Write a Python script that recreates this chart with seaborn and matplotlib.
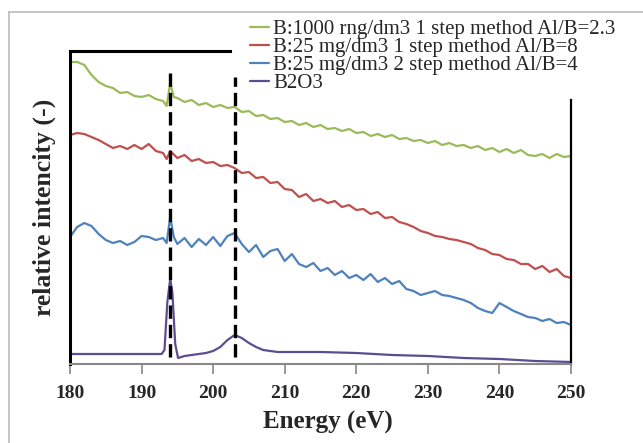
import numpy as np
import pandas as pd
import matplotlib
matplotlib.use("Agg")
import matplotlib.pyplot as plt
from matplotlib.lines import Line2D
import seaborn as sns

# ── data (relative intensity, arbitrary units) ────────────────────────────────

labels = [
    "B:1000 rng/dm3 1 step method Al/B=2.3",
    "B:25 mg/dm3 1 step method Al/B=8",
    "B:25 mg/dm3 2 step method Al/B=4",
    "B2O3",
]
colors = ["#9bbb59", "#c0504d", "#4f81bd", "#5c4d91"]

energy_green = [180, 181, 182, 183, 184, 185, 186, 187, 188, 189, 190, 191, 192, 193, 193.5, 194, 194.5,
                195, 196, 197, 198, 199, 200, 201, 202, 203, 204, 205, 206, 207, 208, 209, 210, 211, 212,
                213, 214, 215, 216, 217, 218, 219, 220, 221, 222, 223, 224, 225, 226, 227, 228, 229, 230,
                231, 232, 233, 234, 235, 236, 237, 238, 239, 240, 241, 242, 243, 244, 245, 246, 247, 248,
                249, 250]
int_green = [302, 302, 299, 289, 282, 278, 276, 271, 272, 268, 267, 269, 265, 263, 258, 281, 267,
             266, 262, 264, 259, 261, 257, 259, 256, 257, 252, 253, 248, 249, 245, 246, 242, 243, 239,
             241, 237, 239, 235, 236, 233, 235, 231, 232, 228, 230, 227, 229, 225, 226, 223, 224, 221,
             223, 219, 221, 218, 219, 216, 218, 214, 216, 212, 215, 211, 214, 209, 208, 210, 206, 210,
             207, 208]

energy_red = [180, 181, 182, 183, 184, 185, 186, 187, 188, 189, 190, 191, 192, 193, 193.5, 194, 195,
              196, 197, 198, 199, 200, 201, 202, 203, 204, 205, 206, 207, 208, 209, 210, 211, 212, 213,
              214, 215, 216, 217, 218, 219, 220, 221, 222, 223, 224, 225, 226, 227, 228, 229, 230, 231,
              232, 233, 234, 235, 236, 237, 238, 239, 240, 241, 242, 243, 244, 245, 246, 247, 248, 249,
              250]
int_red = [229, 231, 230, 227, 224, 220, 216, 218, 215, 219, 215, 220, 213, 211, 205, 213, 206,
           209, 203, 205, 201, 202, 198, 199, 196, 191, 192, 186, 187, 181, 182, 175, 174, 167, 170,
           163, 165, 161, 163, 157, 159, 154, 155, 150, 152, 146, 147, 142, 140, 137, 133, 131, 128,
           127, 125, 124, 122, 120, 116, 114, 110, 109, 105, 104, 100, 100, 95, 98, 92, 95, 88,
           86]

energy_blue = [180, 181, 182, 183, 184, 185, 186, 187, 188, 189, 190, 191, 192, 193, 193.5, 194, 194.5,
               195, 196, 197, 198, 199, 200, 201, 202, 203, 204, 205, 206, 207, 208, 209, 210, 211, 212,
               213, 214, 215, 216, 217, 218, 219, 220, 221, 222, 223, 224, 225, 226, 227, 228, 229, 230,
               231, 232, 233, 234, 235, 236, 237, 238, 239, 240, 241, 242, 243, 244, 245, 246, 247, 248,
               249, 250]
int_blue = [127, 137, 141, 138, 130, 124, 121, 123, 119, 122, 128, 127, 124, 126, 121, 147, 127,
            120, 126, 117, 125, 119, 127, 118, 128, 131, 120, 112, 119, 107, 113, 115, 103, 110, 100,
            97, 101, 93, 96, 89, 93, 86, 89, 84, 90, 82, 86, 80, 83, 75, 73, 69, 71,
            73, 69, 68, 66, 64, 61, 56, 53, 51, 61, 57, 53, 50, 47, 46, 43, 45, 41,
            42, 39]

energy_b2o3 = [180, 185, 190, 192.8, 193.2, 193.6, 194.0, 194.3, 194.7, 195.1, 196, 197, 198, 199,
               200, 201, 202, 203, 204, 205, 206, 207, 208, 209, 210, 215, 220, 225, 230, 235, 240,
               245, 250]
int_b2o3 = [10, 10, 10, 10, 14, 62, 85, 72, 20, 6, 8, 9, 10, 11,
            13, 17, 24, 29, 26, 21, 17, 14, 13, 12, 12, 12, 11, 9, 8, 6, 5,
            3, 2]

# reference lines at the two B2O3 features
peak_energy = [194, 203]
peak_top = [291, 287]
peak_bottom = [7, 7]

series = [
    (energy_green, int_green),
    (energy_red, int_red),
    (energy_blue, int_blue),
    (energy_b2o3, int_b2o3),
]

# ── plot ──────────────────────────────────────────────────────────────────────

sns.set_theme(style="white")
plt.rcParams["font.family"] = ["Liberation Serif", "DejaVu Serif"]

fig = plt.figure(figsize=(6.43, 4.43), dpi=100)
ax = fig.add_axes([70 / 643, 1 - 364 / 443, 501 / 643, 313 / 443])

for (e, v), lab, col in zip(series, labels, colors):
    df = pd.DataFrame({"energy": e, "intensity": v})
    sns.lineplot(data=df, x="energy", y="intensity", ax=ax, color=col, lw=1.6,
                 label=lab, sort=False, estimator=None)

ax.vlines(peak_energy, peak_bottom, peak_top, colors="black", lw=2.4,
          linestyles=(0, (4, 1.8)), zorder=4)

ax.set_xlim(180, 250)
ax.set_ylim(0, 313)
ax.set_xticks(range(180, 251, 10))
ax.set_yticks([])
ax.tick_params(axis="x", direction="out", length=7, width=1.2, color="#888888",
               labelsize=14, pad=8, bottom=True)
for t in ax.get_xticklabels():
    t.set_fontweight("bold")

ax.set_xlabel("Energy (eV)", fontsize=18, fontweight="bold", labelpad=5)
ax.xaxis.set_label_coords(0.515, -0.15)
ax.set_ylabel("relative intencity (-)", fontsize=18.5, fontweight="bold", labelpad=10)

for side in ["left", "top", "right"]:
    ax.spines[side].set_color("black")
ax.spines["left"].set_linewidth(2.2)
ax.spines["top"].set_linewidth(2.2)
ax.spines["top"].set_bounds(180, 202.4)     # hidden under the legend in the original
ax.spines["right"].set_linewidth(1.6)
ax.spines["right"].set_bounds(0, 264)
ax.spines["bottom"].set_color("#888888")
ax.spines["bottom"].set_linewidth(1.5)

leg = ax.legend(loc="upper left", bbox_to_anchor=(242 / 643, 1 - 11 / 443),
                bbox_transform=fig.transFigure, fontsize=15, frameon=False,
                handlelength=0.9, handletextpad=0.2, labelspacing=-0.07,
                borderpad=0.4, borderaxespad=0)

# faint outer frame of the original image
fig.add_artist(Line2D([9 / 643, 9 / 643], [0, 1 - 12 / 443], transform=fig.transFigure,
                      color="#bbbbbb", lw=1.2))
fig.add_artist(Line2D([9 / 643, 1], [1 - 12 / 443, 1 - 12 / 443], transform=fig.transFigure,
                      color="#bbbbbb", lw=1.2))

fig.savefig("out.png", dpi=100)
